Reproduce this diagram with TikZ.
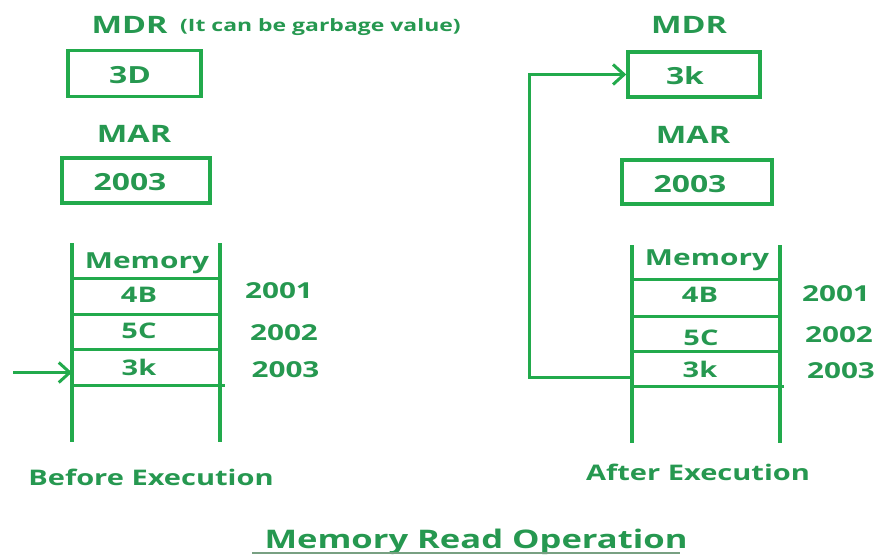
\documentclass[tikz,border=0pt]{standalone}
\usepackage{fontspec}
\setmainfont{Open Sans}[FakeStretch=1.35]
\usetikzlibrary{arrows.meta}
\definecolor{txtg}{RGB}{38,152,80}
\definecolor{lng}{RGB}{34,170,76}
\definecolor{ulg}{RGB}{120,160,130}
\begin{document}
\begin{tikzpicture}[x=1pt,y=-1pt,
  txt/.style={text=txtg,inner sep=0pt,anchor=base,font=\bfseries\fontsize{#1}{#1}\selectfont},
  txt/.default=21.5,
  regbox/.style n args={2}{draw=lng,line width=3.5pt,inner sep=0pt,minimum width=#1,minimum height=#2},
  memline/.style={draw=lng,line width=4pt},
  cellline/.style={draw=lng,line width=3pt},
  conn/.style={draw=lng,line width=3pt},
  tip/.style={-{Straight Barb[length=11pt,width=20pt]}}
]
\useasboundingbox (0,0) rectangle (880,555);

% ---------------- Left: before execution ----------------
\node[txt=24] (mdrLlbl) at (129.5,33) {MDR};
\node[txt=17,anchor=base west] (noteL) at (180,31) {(It can be garbage value)};
\node[regbox={133pt}{46pt}] (mdrL) at (134.5,73.5) {};
\node[txt=23.6] (mdrLval) at (130,83) {3D};

\node[txt=24] (marLlbl) at (134,142) {MAR};
\node[regbox={148pt}{45pt}] (marL) at (136,180.5) {};
\node[txt=23.6] (marLval) at (130,190) {2003};

\draw[memline] (72,243) coordinate (mLtl) -- (72,442) coordinate (mLbl);
\draw[memline] (220,243) coordinate (mLtr) -- (220,442) coordinate (mLbr);
\draw[cellline] (72,278) -- (220,278);
\draw[cellline] (72,314) -- (220,314);
\draw[cellline] (72,349) -- (220,349);
\draw[cellline] (72,385) -- (225,385);

\node[txt=22.1] (memLhd) at (147,268) {Memory};
\node[txt=21.5] (cellL1) at (139,302) {4B};
\node[txt=21.5] (cellL2) at (139,338) {5C};
\node[txt=21.5] (cellL3) at (139,375) {3k};
\node[txt=22] (addrL1) at (279,298) {2001};
\node[txt=22] (addrL2) at (284,340) {2002};
\node[txt=22] (addrL3) at (285.5,377) {2003};

\coordinate (inL) at (13,372.5);
\coordinate (tapL) at (72,372.5);
\draw[conn,tip] (inL) -- (tapL);

\node[txt=21.5] (beforeL) at (151,485) {Before Execution};

% ---------------- Right: after execution ----------------
\node[txt=24] (mdrRlbl) at (689,33) {MDR};
\node[regbox={132pt}{45pt}] (mdrR) at (694,74.5) {};
\node[txt=23.6] (mdrRval) at (685,84) {3k};

\node[txt=24] (marRlbl) at (693,143) {MAR};
\node[regbox={150pt}{44pt}] (marR) at (697,182) {};
\node[txt=23.6] (marRval) at (690,192) {2003};

\draw[memline] (632,245) coordinate (mRtl) -- (632,443) coordinate (mRbl);
\draw[memline] (780,245) coordinate (mRtr) -- (780,443) coordinate (mRbr);
\draw[cellline] (632,279) -- (780,279);
\draw[cellline] (632,316) -- (780,316);
\draw[cellline] (632,351) -- (780,351);
\draw[cellline] (632,386) -- (784,386);

\node[txt=22.1] (memRhd) at (707,265) {Memory};
\node[txt=21.5] (cellR1) at (700,302) {4B};
\node[txt=21.5] (cellR2) at (701,345) {5C};
\node[txt=21.5] (cellR3) at (700,377) {3k};
\node[txt=22] (addrR1) at (836,301) {2001};
\node[txt=22] (addrR2) at (839,342) {2002};
\node[txt=22] (addrR3) at (841,378) {2003};

\coordinate (tapR) at (632,377);
\coordinate (bendR) at (529,377);
\draw[conn,tip] (tapR) -- (bendR) |- (mdrR.west);

\node[txt=21.5] (afterR) at (698,480) {After Execution};

% ---------------- Title ----------------
\node[txt=25.6] (title) at (476,548) {Memory Read Operation};
\draw[ulg,line width=1.2pt] (252,553) coordinate (ulA) -- (680,553) coordinate (ulB);
\end{tikzpicture}
\end{document}
